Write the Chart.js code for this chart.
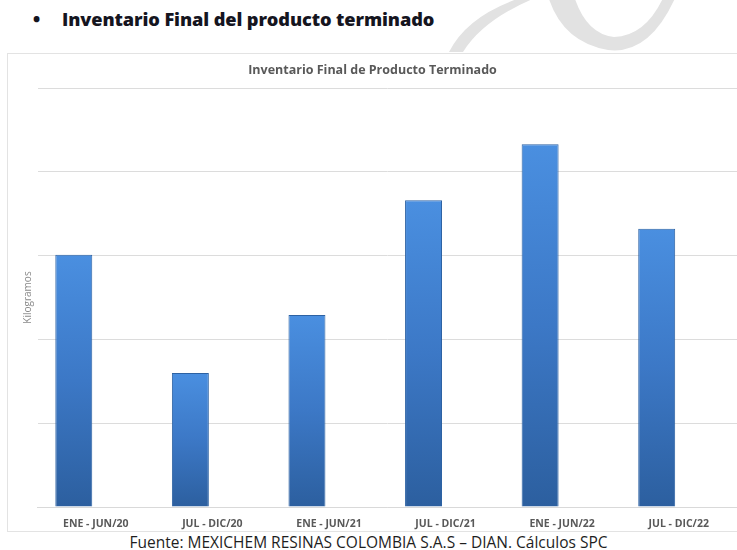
<!DOCTYPE html>
<html lang="es">
<head>
<meta charset="utf-8">
<title>Inventario Final del producto terminado</title>
<script src="https://cdn.jsdelivr.net/npm/chart.js@4/dist/chart.umd.min.js"></script>
<style>
  html, body { margin: 0; padding: 0; background: #ffffff; }
  body { width: 737px; height: 550px; position: relative; overflow: hidden; }
  #mark { position: absolute; left: 0; top: 0; }
  #heading {
    position: absolute; left: 33px; top: 7px;
    font-family: "Open Sans", sans-serif; font-weight: 800; font-size: 18.2px;
    color: #15151f; letter-spacing: -0.1px; white-space: nowrap;
  }
  #heading .dot { display: inline-block; width: 29px; }
  #box {
    position: absolute; left: 7px; top: 53px; width: 740px; height: 479px;
    border: 1px solid #e3e3e3; box-sizing: border-box; background: #ffffff;
  }
  #wrap { position: absolute; left: 8px; top: 54px; width: 729px; height: 477px; }
  #source {
    position: absolute; left: 0; width: 737px; top: 534px; line-height: 16px; text-align: center;
    font-family: "Open Sans", sans-serif; font-size: 15.5px; color: #1e1e1e; white-space: nowrap;
  }
</style>
</head>
<body>
<svg id="mark" width="737" height="60" viewBox="0 0 737 60">
  <path d="M449 52 Q468 14 526 -4 L540 -4 Q484 18 463 52 Z" fill="#e2e2e2"/>
  <path d="M548 -4 Q562 42 608 50 Q650 55 676 -4 L664 -4 Q646 36 614 37 Q586 34 574 -4 Z" fill="#e2e2e2"/>
</svg>
<div id="heading"><span class="dot">•</span>Inventario Final del producto terminado</div>
<div id="box"></div>
<div id="wrap"><canvas id="chart" width="729" height="477"></canvas></div>
<div id="source">Fuente: MEXICHEM RESINAS COLOMBIA S.A.S – DIAN. Cálculos SPC</div>
<script>
// Semesters on the category axis
const periods = ['ENE - JUN/20', 'JUL - DIC/20', 'ENE - JUN/21', 'JUL - DIC/21', 'ENE - JUN/22', 'JUL - DIC/22'];
// Final inventory of finished product (kilograms, relative units per gridline)
const inventario = [3.01, 1.60, 2.29, 3.66, 4.33, 3.32];
// Second (empty) series of the original workbook; it keeps the bar slot on the left
const serieVacia = [];
// Value axis
const yMin = 0;
const yMax = 5;
const yStep = 1;

function barFill(context) {
  const chart = context.chart;
  const y = chart.scales.y;
  if (!y || context.raw == null) return '#3c78c6';
  const top = y.getPixelForValue(context.raw);
  const base = y.getPixelForValue(0);
  if (!isFinite(top) || !isFinite(base) || top === base) return '#3c78c6';
  const g = chart.ctx.createLinearGradient(0, top, 0, base);
  g.addColorStop(0, '#4a8fe0');
  g.addColorStop(0.5, '#3c78c6');
  g.addColorStop(1, '#2c5f9f');
  return g;
}

new Chart(document.getElementById('chart'), {
  type: 'bar',
  data: {
    labels: periods,
    datasets: [
      {
        label: 'Inventario final',
        data: inventario,
        backgroundColor: barFill,
        borderColor: '#2d62a3',
        borderWidth: 1,
        borderSkipped: 'bottom',
        categoryPercentage: 0.755,
        barPercentage: 0.84
      },
      {
        label: ' ',
        data: serieVacia,
        backgroundColor: '#a5a5a5',
        categoryPercentage: 0.755,
        barPercentage: 0.84
      }
    ]
  },
  options: {
    responsive: false,
    animation: false,
    layout: { padding: { left: 0, right: 0, top: 0, bottom: 0 } },
    plugins: {
      legend: { display: false },
      tooltip: { enabled: false },
      title: {
        display: true,
        text: 'Inventario Final de Producto Terminado',
        color: '#595959',
        font: { family: 'Open Sans', weight: 'bold', size: 12.5 },
        padding: { top: 9, bottom: 10 }
      }
    },
    scales: {
      x: {
        grid: { display: false, drawTicks: false },
        border: { display: true, color: '#d9d9d9', width: 1 },
        ticks: {
          color: '#595959',
          font: { family: 'Open Sans', weight: 'bold', size: 10.5 },
          padding: 11,
          maxRotation: 0,
          autoSkip: false
        },
        afterFit: s => { s.height = 24; }
      },
      y: {
        min: yMin,
        max: yMax,
        ticks: { stepSize: yStep, display: false },
        grid: { color: '#dcdcdc', lineWidth: 1, drawTicks: false },
        border: { display: false },
        title: {
          display: true,
          text: 'Kilogramos',
          color: '#8a8a8a',
          font: { family: 'Open Sans', size: 10 },
          padding: { top: 14, bottom: 0 }
        },
        afterFit: s => { s.width = 29.5; }
      }
    }
  }
});
</script>
</body>
</html>
